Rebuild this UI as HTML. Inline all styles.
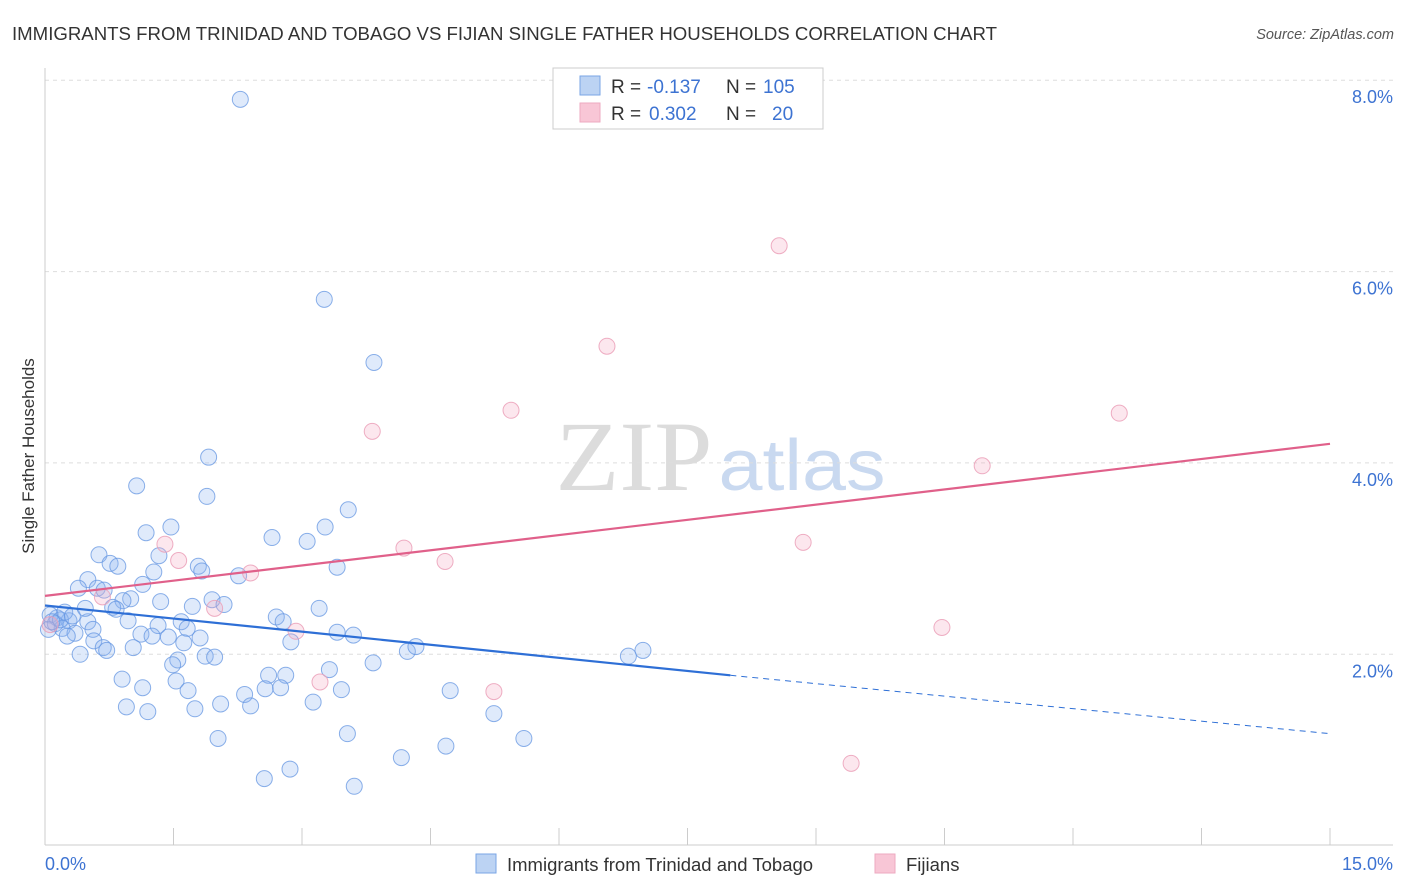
<!DOCTYPE html>
<html><head><meta charset="utf-8">
<style>
body{margin:0;background:#fff;font-family:"Liberation Sans",sans-serif;}
svg{display:block}
</style></head>
<body>
<svg id="chart" width="1406" height="892" xmlns="http://www.w3.org/2000/svg">
<text x="12" y="40" font-size="18" fill="#333" textLength="985" lengthAdjust="spacingAndGlyphs">IMMIGRANTS FROM TRINIDAD AND TOBAGO VS FIJIAN SINGLE FATHER HOUSEHOLDS CORRELATION CHART</text>
<text x="1394" y="39" font-size="14.5" fill="#555" text-anchor="end" font-style="italic">Source: ZipAtlas.com</text>
<g>
<text x="634" y="490" font-size="100" fill="#dcdcdc" text-anchor="middle" font-family="Liberation Serif" textLength="157" lengthAdjust="spacingAndGlyphs">ZIP</text>
<text x="802" y="490" font-size="72" fill="#c9d9f0" text-anchor="middle" textLength="167" lengthAdjust="spacingAndGlyphs">atlas</text>
</g>
<g id="grid"></g>
<g id="axes"></g>
<g id="marks"></g>
<g>
<rect x="553" y="68" width="270" height="61" fill="#fff" stroke="#ccc"/>
<rect x="580" y="76" width="20" height="19" fill="#bcd3f3" stroke="#7aa6e6"/>
<rect x="580" y="103" width="20" height="19" fill="#f8c6d6" stroke="#eeaac0"/>
<text x="611" y="93" font-size="19" fill="#333">R =</text>
<text x="647" y="93" font-size="19" fill="#3d73d2">-0.137</text>
<text x="726" y="93" font-size="19" fill="#333">N =</text>
<text x="763" y="93" font-size="19" fill="#3d73d2">105</text>
<text x="611" y="120" font-size="19" fill="#333">R =</text>
<text x="649" y="120" font-size="19" fill="#3d73d2">0.302</text>
<text x="726" y="120" font-size="19" fill="#333">N =</text>
<text x="772" y="120" font-size="19" fill="#3d73d2">20</text>
</g>
<text transform="translate(34,456) rotate(-90)" font-size="17" fill="#333" text-anchor="middle">Single Father Households</text>
<g>
<rect x="476" y="854" width="20" height="19" fill="#bcd3f3" stroke="#7aa6e6"/>
<text x="507" y="871" font-size="18.5" fill="#333">Immigrants from Trinidad and Tobago</text>
<rect x="875" y="854" width="20" height="19" fill="#f8c6d6" stroke="#eeaac0"/>
<text x="906" y="871" font-size="18.5" fill="#333">Fijians</text>
</g>
</svg>
<script>
const yTicks=[2,4,6,8];
const yTickLabels=["2.0%","4.0%","6.0%","8.0%"];
const xTickLabels=["0.0%","15.0%"];
const blueX=[2.28,3.26,3.84,1.91,1.07,1.89,3.54,1.18,1.47,2.65,3.27,3.06,0.63,1.33,0.76,0.85,3.41,1.27,1.79,1.83,2.26,0.50,0.39,1.14,0.61,0.69,1.00,0.91,1.35,1.95,2.09,1.72,0.79,0.83,3.20,2.70,2.78,1.59,0.97,1.32,1.66,0.50,0.28,0.14,0.06,0.12,0.20,0.04,0.35,0.26,0.56,1.12,1.25,1.44,1.81,3.41,3.60,0.57,1.62,2.87,0.68,0.72,1.03,0.41,1.87,1.98,4.23,4.33,6.81,6.98,1.55,1.49,3.83,3.32,2.61,2.81,0.90,1.53,1.14,1.67,2.57,2.75,3.46,4.73,2.33,0.95,1.20,1.75,2.05,2.40,3.13,5.24,2.02,3.53,5.59,4.68,4.16,2.56,2.86,3.61,0.18,0.23,0.08,0.32,0.47];
const blueY=[7.80,5.71,5.05,4.06,3.76,3.65,3.51,3.27,3.33,3.22,3.33,3.18,3.04,3.03,2.95,2.92,2.91,2.86,2.92,2.87,2.82,2.78,2.69,2.73,2.69,2.67,2.58,2.56,2.55,2.57,2.52,2.50,2.49,2.47,2.48,2.39,2.34,2.34,2.35,2.30,2.27,2.34,2.35,2.38,2.41,2.32,2.27,2.26,2.22,2.19,2.26,2.21,2.19,2.18,2.17,2.23,2.20,2.14,2.12,2.13,2.07,2.04,2.07,2.00,1.98,1.97,2.03,2.08,1.98,2.04,1.94,1.89,1.91,1.84,1.78,1.78,1.74,1.72,1.65,1.62,1.64,1.65,1.63,1.62,1.58,1.45,1.40,1.43,1.48,1.46,1.50,1.38,1.12,1.17,1.12,1.04,0.92,0.70,0.80,0.62,2.36,2.44,2.34,2.40,2.48];
const pinkX=[8.57,6.56,5.44,3.82,12.54,10.94,8.85,4.19,4.67,1.40,1.56,2.40,1.98,0.67,2.93,10.47,3.21,5.24,9.41,0.06];
const pinkY=[6.27,5.22,4.55,4.33,4.52,3.97,3.17,3.11,2.97,3.15,2.98,2.85,2.48,2.60,2.24,2.28,1.71,1.61,0.86,2.31];
const blueTrend=[[0,2.51],[8.0,1.78],[15,1.17]];
const pinkTrend=[[0,2.61],[15,4.20]];
const X=v=>45+v/15*1285;
const Y=v=>845.6-v*95.67;
const NS="http://www.w3.org/2000/svg";
function mk(t,a,p){const e=document.createElementNS(NS,t);for(const k in a)e.setAttribute(k,a[k]);p.appendChild(e);return e;}
const grid=document.getElementById('grid'),axes=document.getElementById('axes'),marks=document.getElementById('marks');
yTicks.forEach((t,i)=>{
 const l=mk('line',{x1:45,x2:1393,y1:Y(t),y2:Y(t),stroke:'#ddd','stroke-dasharray':'4,4'},grid);
 
 
 const tx=mk('text',{x:1393,y:Y(t)+23,'font-size':18,fill:'#3d73d2','text-anchor':'end'},axes);
 tx.textContent=yTickLabels[i];
 
 
});
mk('line',{x1:45,x2:45,y1:68,y2:845,stroke:'#ccc'},axes);
mk('line',{x1:45,x2:1393,y1:845,y2:845,stroke:'#ccc'},axes);
for(let i=0;i<=10;i++){mk('line',{x1:X(i*1.5),x2:X(i*1.5),y1:828,y2:845,stroke:'#ccc'},axes);}
const xl0=mk('text',{x:45,y:870,'font-size':18,fill:'#3d73d2'},axes);xl0.textContent=xTickLabels[0];


const xl1=mk('text',{x:1393,y:870,'font-size':18,fill:'#3d73d2','text-anchor':'end'},axes);xl1.textContent=xTickLabels[1];


blueX.forEach((x,i)=>{
 const c=mk('circle',{cx:X(x),cy:Y(blueY[i]),r:8,fill:'rgba(140,180,240,0.28)',stroke:'rgba(100,150,225,0.75)','stroke-width':1},marks);
 
 
});
pinkX.forEach((x,i)=>{
 const c=mk('circle',{cx:X(x),cy:Y(pinkY[i]),r:8,fill:'rgba(245,170,195,0.28)',stroke:'rgba(235,160,185,0.85)','stroke-width':1},marks);
 
 
});
const b1=mk('line',{x1:X(blueTrend[0][0]),y1:Y(blueTrend[0][1]),x2:X(blueTrend[1][0]),y2:Y(blueTrend[1][1]),stroke:'#2e6fd6','stroke-width':2.2},marks);


const b2=mk('line',{x1:X(blueTrend[1][0]),y1:Y(blueTrend[1][1]),x2:X(blueTrend[2][0]),y2:Y(blueTrend[2][1]),stroke:'#2e6fd6','stroke-width':1,'stroke-dasharray':'6,5'},marks);


const p1=mk('line',{x1:X(pinkTrend[0][0]),y1:Y(pinkTrend[0][1]),x2:X(pinkTrend[1][0]),y2:Y(pinkTrend[1][1]),stroke:'#e0608a','stroke-width':2.2},marks);


</script>
</body></html>
